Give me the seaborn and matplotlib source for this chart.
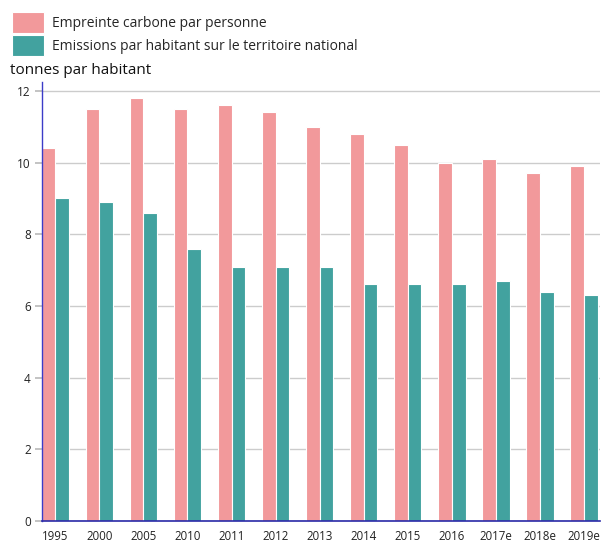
import matplotlib
matplotlib.use("Agg")
import matplotlib.pyplot as plt
import seaborn as sns
import pandas as pd

years = ["1995", "2000", "2005", "2010", "2011", "2012", "2013", "2014",
         "2015", "2016", "2017e", "2018e", "2019e"]
empreinte = [10.4, 11.5, 11.8, 11.5, 11.6, 11.4, 11.0, 10.8, 10.5, 10.0, 10.1, 9.7, 9.9]
emissions = [9.0, 8.9, 8.6, 7.6, 7.1, 7.1, 7.1, 6.6, 6.6, 6.6, 6.7, 6.4, 6.3]
series_names = ["Empreinte carbone par personne",
                "Emissions par habitant sur le territoire national"]
colors = ["#f2999b", "#42a29f"]

df = pd.DataFrame({
    "year": years * 2,
    "value": empreinte + emissions,
    "series": [series_names[0]] * len(years) + [series_names[1]] * len(years),
})

sns.set_theme(style="white")
plt.rcParams["font.family"] = ["Open Sans", "DejaVu Sans"]

fig = plt.figure(figsize=(6.01, 5.42), dpi=100)
ax = fig.add_axes([42 / 601, 21 / 542, 558 / 601, 439 / 542])

sns.barplot(data=df, x="year", y="value", hue="series", order=years,
            hue_order=series_names, palette=colors, width=0.62,
            edgecolor="white", linewidth=0.8, saturation=1, ax=ax,
            legend=True)

ax.set_xlim(-0.3, 12.36)
ax.set_ylim(0, 12.25)
ax.set_yticks([0, 2, 4, 6, 8, 10, 12])
ax.yaxis.grid(True, color="#cccccc", linewidth=1)
ax.set_axisbelow(True)
ax.set_xlabel("")
ax.set_ylabel("")
for s in ["top", "right"]:
    ax.spines[s].set_visible(False)
ax.spines["left"].set_color("#3c3cc8")
ax.spines["bottom"].set_color("#2a2aa8")
ax.spines["left"].set_linewidth(1.0)
ax.spines["bottom"].set_linewidth(1.2)
ax.tick_params(axis="y", left=True, length=5, color="#bbbbbb", labelsize=8.5,
               labelcolor="#222222", pad=3)
ax.tick_params(axis="x", bottom=False, labelsize=8.3, labelcolor="#222222", pad=0.5)

leg = ax.legend(loc="upper left", bbox_to_anchor=(12 / 601, 1 - 12 / 542),
                bbox_transform=fig.transFigure, frameon=False, fontsize=10,
                handlelength=2.3, handleheight=1.9, handletextpad=0.55,
                labelspacing=0.2, borderaxespad=0, borderpad=0)
for h in leg.legend_handles:
    h.set_edgecolor("white")

fig.text(10 / 601, 1 - 70 / 542, "tonnes par habitant", fontsize=11,
         va="center", ha="left", color="#111111")

fig.savefig("out.png", dpi=100)
